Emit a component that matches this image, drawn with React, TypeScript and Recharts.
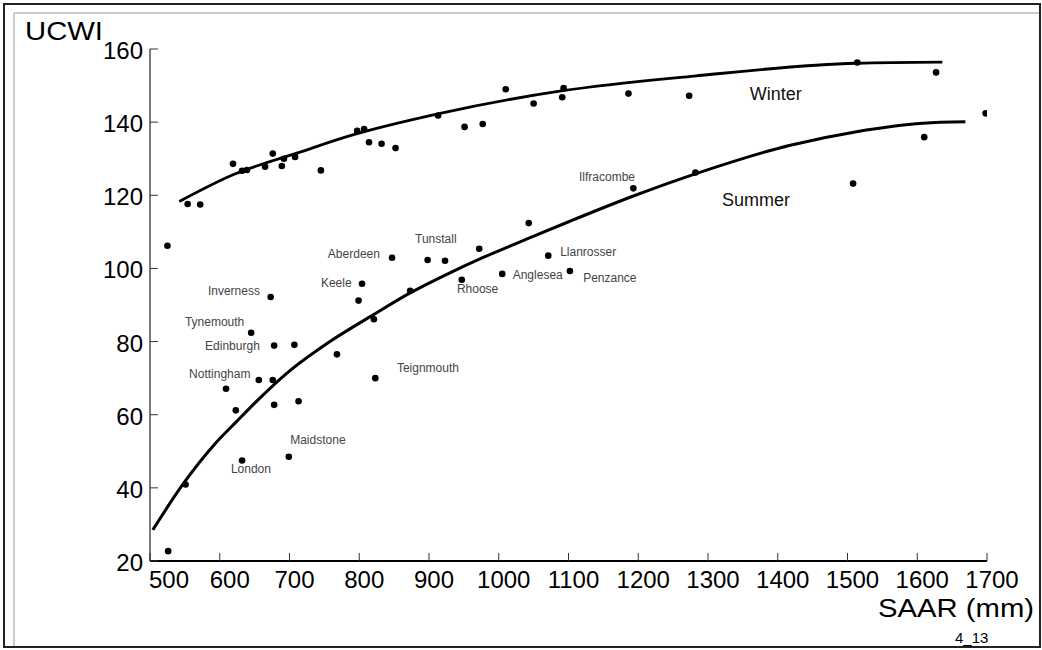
import React from "react";
import { ComposedChart, XAxis, YAxis, Scatter, Line } from "recharts";

// SAAR (mm) vs UCWI, winter and summer stations with fitted curves
const winterObs = [
  [554, 117.6], [572, 117.5], [619, 128.6], [632, 126.7], [639, 126.9],
  [665, 127.8], [676, 131.4], [689, 128.0], [692, 130.0], [708, 130.5],
  [745, 126.8], [797, 137.6], [807, 138.1], [814, 134.5], [832, 134.1],
  [852, 132.9], [913, 141.8], [951, 138.7], [977, 139.5], [1010, 149.0],
  [1050, 145.1], [1091, 146.8], [1093, 149.3], [1186, 147.8], [1273, 147.2],
  [1514, 156.3], [1627, 153.6],
];

const summerObs = [
  [525, 106.2], [526, 22.7], [551, 40.9], [609, 67.1], [623, 61.2],
  [632, 47.5], [645, 82.4], [656, 69.5], [673, 92.2], [676, 69.5],
  [678, 78.9], [678, 62.7], [699, 48.5], [707, 79.1], [713, 63.7],
  [768, 76.5], [799, 91.2], [804, 95.8], [821, 86.1], [823, 70.0],
  [847, 102.9], [873, 93.9], [898, 102.3], [923, 102.1], [947, 96.9],
  [972, 105.4], [1005, 98.5], [1043, 112.4], [1071, 103.5], [1102, 99.3],
  [1193, 121.9], [1282, 126.2], [1508, 123.2], [1610, 135.9], [1698, 142.4],
];

const winterFit = [
  [542, 118.3], [619, 125.6], [715, 131.8], [787, 136.3], [916, 142.4],
  [1092, 148.6], [1280, 152.6], [1513, 156.1], [1636, 156.4],
];

const summerFit = [
  [504, 28.5], [548, 41.2], [593, 52.0], [624, 58.1], [653, 63.7],
  [696, 71.3], [758, 80.0], [820, 87.3], [873, 93.3], [930, 98.8],
  [973, 102.6], [1045, 108.4], [1102, 112.9], [1193, 119.8], [1284, 126.0],
  [1418, 133.7], [1513, 137.4], [1608, 139.7], [1669, 140.1],
];

// station names, placed at the text's left edge / vertical centre
const stationLabels: [string, number, number][] = [
  ["Ilfracombe", 1115, 125.0],
  ["Tunstall", 880, 108.0],
  ["Aberdeen", 755, 104.0],
  ["Keele", 745, 95.9],
  ["Inverness", 583, 93.8],
  ["Tynemouth", 550, 85.4],
  ["Edinburgh", 579, 78.8],
  ["Nottingham", 556, 71.1],
  ["Teignmouth", 854, 72.8],
  ["Maidstone", 701, 53.1],
  ["London", 616, 45.2],
  ["Rhoose", 940, 94.4],
  ["Anglesea", 1020, 98.3],
  ["Llanrosser", 1088, 104.5],
  ["Penzance", 1121, 97.4],
];

const seasonLabels: [string, number, number][] = [
  ["Winter", 1360, 147.7],
  ["Summer", 1320, 118.7],
];

const xTicks = [500, 600, 700, 800, 900, 1000, 1100, 1200, 1300, 1400, 1500, 1600, 1700];
const yTicks = [20, 40, 60, 80, 100, 120, 140, 160];

const toPoints = (rows: number[][]) => rows.map(([x, y]) => ({ x, y }));
const toLabels = (rows: [string, number, number][]) =>
  rows.map(([name, x, y]) => ({ name, x, y }));

const FONT = "'Liberation Sans', Arial, Helvetica, sans-serif";

const XTick = (props: any) => {
  const { x, y, payload } = props;
  const shift = payload.value === 500 ? 19 : payload.value === 600 ? 10 : 5;
  return (
    <text x={x + shift} y={y} dy={27} textAnchor="middle" fontSize={24} fill="#000" fontFamily={FONT}>
      {payload.value}
    </text>
  );
};

const YTick = (props: any) => {
  const { x, y, payload } = props;
  return (
    <text x={x - 7} y={y} dy={10} textAnchor="end" fontSize={24} fill="#000" fontFamily={FONT}>
      {payload.value}
    </text>
  );
};

const Dot = (props: any) => <circle cx={props.cx} cy={props.cy} r={3.3} fill="#000" />;

const makeLabel = (size: number, color: string) => (props: any) => (
  <text
    x={props.cx}
    y={props.cy}
    dominantBaseline="central"
    fontSize={size}
    fill={color}
    fontFamily={FONT}
  >
    {props.payload.name}
  </text>
);

const StationLabel = makeLabel(12, "#444");
const SeasonLabel = makeLabel(18, "#111");

export default function App() {
  return (
    <div style={{ position: "absolute", left: 0, top: 0, width: 1042, height: 650, background: "#fff", fontFamily: FONT }}>
      <ComposedChart width={1042} height={650} margin={{ top: 49, right: 55, bottom: 49, left: 90 }}>
        <XAxis
          type="number"
          dataKey="x"
          domain={[500, 1700]}
          ticks={xTicks}
          interval={0}
          height={40}
          tickSize={-8}
          tickMargin={8}
          tick={<XTick />}
          axisLine={{ stroke: "#000", strokeWidth: 2 }}
          tickLine={{ stroke: "#333", strokeWidth: 1 }}
          allowDataOverflow
        />
        <YAxis
          type="number"
          dataKey="y"
          domain={[20, 160]}
          ticks={yTicks}
          interval={0}
          width={60}
          tickSize={-8}
          tickMargin={8}
          tick={<YTick />}
          axisLine={{ stroke: "#222", strokeWidth: 1.2 }}
          tickLine={{ stroke: "#333", strokeWidth: 1 }}
          allowDataOverflow
        />
        <Line
          data={toPoints(winterFit)}
          dataKey="y"
          type="monotone"
          stroke="#000"
          strokeWidth={2.8}
          dot={false}
          isAnimationActive={false}
        />
        <Line
          data={toPoints(summerFit)}
          dataKey="y"
          type="monotone"
          stroke="#000"
          strokeWidth={3}
          dot={false}
          isAnimationActive={false}
        />
        <Scatter data={toPoints(winterObs)} dataKey="y" shape={<Dot />} isAnimationActive={false} />
        <Scatter data={toPoints(summerObs)} dataKey="y" shape={<Dot />} isAnimationActive={false} />
        <Scatter data={toLabels(stationLabels)} dataKey="y" shape={StationLabel} isAnimationActive={false} />
        <Scatter data={toLabels(seasonLabels)} dataKey="y" shape={SeasonLabel} isAnimationActive={false} />
      </ComposedChart>
      <svg width={1042} height={650} style={{ position: "absolute", left: 0, top: 0, pointerEvents: "none" }}>
        <rect x={4} y={4} width={1036} height={643} fill="none" stroke="#222" strokeWidth={2} />
        <polyline points="14,646 14,13 1039,13" fill="none" stroke="#999" strokeWidth={1} />
        <text x={25} y={40} fontSize={25} textLength={78} lengthAdjust="spacingAndGlyphs" fill="#000" fontFamily={FONT}>
          UCWI
        </text>
        <text x={878} y={617} fontSize={25} textLength={156} lengthAdjust="spacingAndGlyphs" fill="#000" fontFamily={FONT}>
          SAAR (mm)
        </text>
        <text x={955} y={643} fontSize={15} fill="#000" fontFamily={FONT}>
          4_13
        </text>
      </svg>
    </div>
  );
}
